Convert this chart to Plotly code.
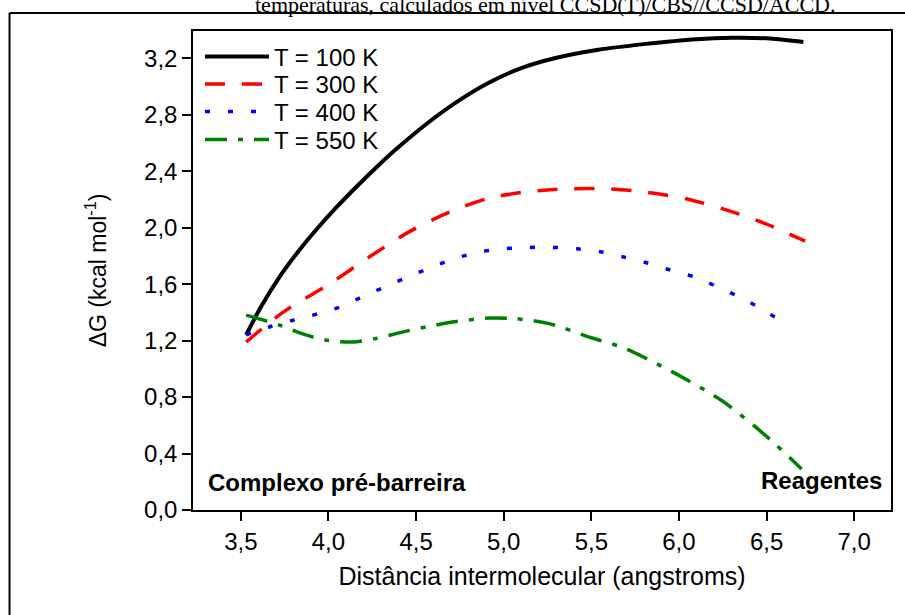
import plotly.graph_objects as go

# Free-energy profiles along the intermolecular coordinate
x_100 = [3.53, 3.62, 3.72, 3.83, 3.93, 4.05, 4.16, 4.28, 4.39, 4.57, 4.75, 4.92,
         5.10, 5.29, 5.54, 5.80, 6.10, 6.30, 6.52, 6.71]
g_100 = [1.24, 1.45, 1.65, 1.835, 1.985, 2.15, 2.29, 2.435, 2.56, 2.745, 2.905, 3.03,
         3.13, 3.20, 3.26, 3.30, 3.335, 3.345, 3.34, 3.315]

x_300 = [3.53, 3.74, 4.01, 4.23, 4.46, 4.69, 4.92, 5.14, 5.37, 5.60, 5.82, 6.04,
         6.26, 6.49, 6.72]
g_300 = [1.19, 1.40, 1.605, 1.79, 1.97, 2.11, 2.21, 2.255, 2.275, 2.275, 2.25, 2.205,
         2.13, 2.03, 1.905]

x_400 = [3.53, 3.67, 3.80, 3.94, 4.07, 4.21, 4.34, 4.47, 4.60, 4.73, 4.87, 5.00,
         5.14, 5.28, 5.42, 5.55, 5.69, 5.82, 5.95, 6.09, 6.22, 6.36, 6.49, 6.63]
g_400 = [1.24, 1.30, 1.345, 1.39, 1.44, 1.52, 1.59, 1.66, 1.725, 1.785, 1.83, 1.85,
         1.86, 1.86, 1.85, 1.83, 1.79, 1.75, 1.70, 1.65, 1.58, 1.50, 1.41, 1.30]

x_550 = [3.53, 3.63, 3.73, 3.87, 4.00, 4.14, 4.27, 4.42, 4.57, 4.73, 4.92, 5.07,
         5.26, 5.50, 5.68, 5.96, 6.25, 6.52, 6.70]
g_550 = [1.38, 1.345, 1.305, 1.24, 1.20, 1.19, 1.215, 1.26, 1.30, 1.335, 1.36, 1.355,
         1.32, 1.22, 1.15, 0.98, 0.77, 0.50, 0.29]

series = [
    ("T = 100 K", x_100, g_100, "#000000", "solid", 4),
    ("T = 300 K", x_300, g_300, "#ff0000", "20px,17px", 3.5),
    ("T = 400 K", x_400, g_400, "#0000ff", "5px,18px", 3.5),
    ("T = 550 K", x_550, g_550, "#008000", "22px,11px,5px,11px", 3.5),
]

SANS = "Liberation Sans, Arial, sans-serif"
SERIF = "Liberation Serif, Times New Roman, serif"

# plot-area geometry in pixels (used for paper coordinates)
L, R, T, B = 193, 893, 31, 510
W, H = 905, 615
def px(xp):
    return (xp - L) / (R - L)
def py(yp):
    return (B - yp) / (B - T)

# one legend per row so the entries sit at a tight, fixed pitch
legend_rows = [57, 84.5, 112, 140]
legend_ids = ["legend", "legend2", "legend3", "legend4"]

fig = go.Figure()
for (name, xs, ys, color, dash, width), lid in zip(series, legend_ids):
    fig.add_trace(go.Scatter(
        x=xs, y=ys, name=name, mode="lines", legend=lid,
        line=dict(color=color, dash=dash, width=width, shape="spline", smoothing=0.8),
    ))

legend_layout = {}
for lid, row in zip(legend_ids, legend_rows):
    legend_layout[lid] = dict(
        x=px(200), y=py(row), xanchor="left", yanchor="middle",
        bgcolor="rgba(0,0,0,0)", borderwidth=0,
        font=dict(family=SANS, size=24, color="black"),
        itemwidth=64,
    )

fig.update_layout(
    width=W, height=H,
    margin=dict(l=L, r=W - R, t=T, b=H - B),
    paper_bgcolor="white", plot_bgcolor="white",
    separators=", ",
    font=dict(family=SANS, size=23, color="black"),
    showlegend=True,
    xaxis=dict(
        range=[3.227, 7.21], tick0=3.5, dtick=0.5, tickformat=".1f",
        showgrid=False, zeroline=False,
        showline=True, linecolor="black", linewidth=1.5, mirror=True,
        ticks="outside", ticklen=9, tickwidth=1.5, tickcolor="black",
        tickfont=dict(family=SANS, size=24),
        title=dict(text="Distância intermolecular (angstroms)",
                   font=dict(family=SANS, size=25), standoff=14),
    ),
    yaxis=dict(
        range=[0, 3.393], tick0=0, dtick=0.4, tickformat=".1f",
        showgrid=False, zeroline=False,
        showline=True, linecolor="black", linewidth=1.5, mirror=True,
        ticks="outside", ticklen=9, tickwidth=1.5, tickcolor="black",
        tickfont=dict(family=SANS, size=24),
        title=dict(text="ΔG (kcal mol<sup>-1</sup>)",
                   font=dict(family=SANS, size=23), standoff=31),
    ),
    **legend_layout,
)

# labels for the two ends of the reaction coordinate
fig.add_annotation(
    xref="paper", yref="paper", x=px(206), y=py(482),
    xanchor="left", yanchor="middle", showarrow=False,
    text="<b>Complexo pré-barreira</b>", font=dict(family=SANS, size=24),
)
fig.add_annotation(
    xref="paper", yref="paper", x=px(886), y=py(480),
    xanchor="right", yanchor="middle", showarrow=False,
    text="<b>Reagentes</b>", font=dict(family=SANS, size=24),
)

# caption line running above the frame
fig.add_annotation(
    xref="paper", yref="paper", x=px(547), y=py(19),
    xanchor="center", yanchor="bottom", showarrow=False,
    text="temperaturas, calculados em nível CCSD(T)/CBS//CCSD/ACCD.",
    font=dict(family=SERIF, size=22, color="black"),
)

# outer frame around the figure
fig.add_shape(type="line", xref="paper", yref="paper",
              x0=px(9), x1=px(915), y0=py(13), y1=py(13),
              line=dict(color="black", width=2))
fig.add_shape(type="line", xref="paper", yref="paper",
              x0=px(9), x1=px(9), y0=py(13), y1=py(630),
              line=dict(color="black", width=2))

fig.write_html("out.html")
